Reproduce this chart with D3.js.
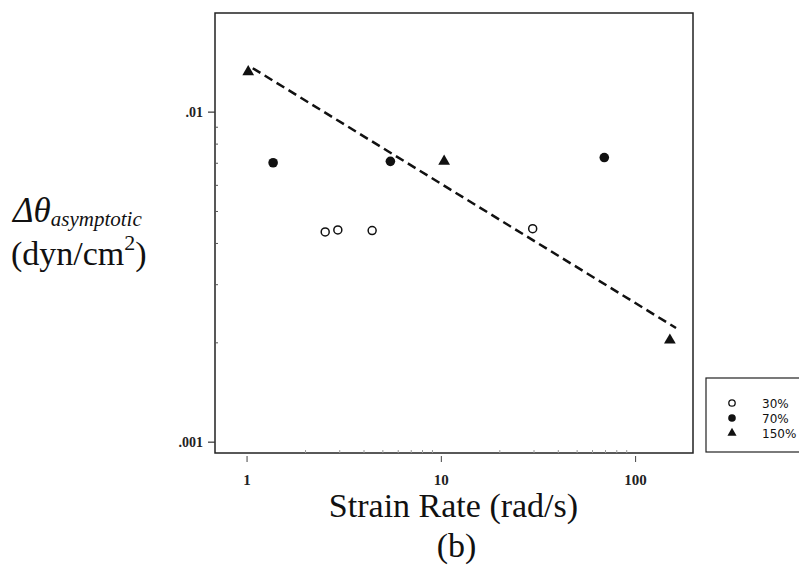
<!DOCTYPE html>
<html>
<head>
<meta charset="utf-8">
<script src="https://cdn.jsdelivr.net/npm/d3@7"></script>
<style>
  html, body { margin: 0; padding: 0; background: #fff; }
  svg { display: block; }
</style>
</head>
<body>
<script>
// ---- Data ----
const series = ["30%", "70%", "150%"];
const rate30 = [2.54, 2.95, 4.43, 29.7];
const val30  = [0.00432, 0.00438, 0.00436, 0.00442];
const rate70 = [1.37, 5.5, 69.4];
const val70  = [0.00700, 0.00707, 0.00726];
const rate150 = [1.02, 10.4, 151];
const val150  = [0.0132, 0.00707, 0.00203];
const fitRate = [1.076, 162.4];
const fitVal  = [0.01354, 0.00221];
const xTicks = [1, 10, 100];
const xTickLabels = ["1", "10", "100"];
const yTicks = [0.01, 0.001];
const yTickLabels = [".01", ".001"];
const xDomain = [0.688, 198.6];
const yDomain = [0.000924, 0.0199];

const W = 799, H = 565;
const pLeft = 215, pRight = 693, pTop = 13, pBottom = 453;
const serif = "'Liberation Serif', 'Times New Roman', serif";

const svg = d3.select("body").append("svg").attr("width", W).attr("height", H)
  .style("background", "#fff");

const x = d3.scaleLog().domain(xDomain).range([pLeft, pRight]);
const y = d3.scaleLog().domain(yDomain).range([pBottom, pTop]);

// frame
svg.append("rect").attr("x", pLeft).attr("y", pTop)
  .attr("width", pRight - pLeft).attr("height", pBottom - pTop)
  .attr("fill", "none").attr("stroke", "#222").attr("stroke-width", 1.5);

// y axis major ticks (outside)
const yAxis = d3.axisLeft(y).tickValues(yTicks).tickSize(7).tickPadding(5)
  .tickFormat((d, i) => yTickLabels[i]);
const gy = svg.append("g").attr("transform", `translate(${pLeft},0)`).call(yAxis);
gy.select(".domain").remove();
gy.selectAll("line").attr("stroke", "#333").attr("stroke-width", 1.2);
gy.selectAll("text").style("font-family", serif).style("font-size", "14px")
  .style("font-weight", "bold").style("fill", "#222");

// y minor ticks (inside)
const yMinor = [];
for (let k = 2; k <= 9; k++) { yMinor.push(k * 0.001); }
const gym = svg.append("g").attr("transform", `translate(${pLeft},0)`)
  .call(d3.axisRight(y).tickValues(yMinor).tickSize(3).tickFormat(""));
gym.select(".domain").remove();
gym.selectAll("line").attr("stroke", "#555").attr("stroke-width", 1);

// x axis major ticks (outside)
const xAxis = d3.axisBottom(x).tickValues(xTicks).tickSize(6).tickPadding(12)
  .tickFormat((d, i) => xTickLabels[i]);
const gx = svg.append("g").attr("transform", `translate(0,${pBottom + 3})`).call(xAxis);
gx.select(".domain").remove();
gx.selectAll("line").attr("stroke", "#444").attr("stroke-width", 1);
gx.selectAll("text").style("font-family", serif).style("font-size", "15px")
  .style("font-weight", "bold").style("fill", "#222");

// x minor ticks (inside, faint)
const xMinor = [];
[1, 10].forEach(dec => { for (let k = 2; k <= 9; k++) xMinor.push(k * dec); });
const gxm = svg.append("g").attr("transform", `translate(0,${pBottom})`)
  .call(d3.axisTop(x).tickValues(xMinor).tickSize(3).tickFormat(""));
gxm.select(".domain").remove();
gxm.selectAll("line").attr("stroke", "#999").attr("stroke-width", 1);

// dashed fit line
const line = d3.line().x(d => x(d[0])).y(d => y(d[1]));
svg.append("path").datum(fitRate.map((r, i) => [r, fitVal[i]]))
  .attr("d", line).attr("fill", "none").attr("stroke", "#111")
  .attr("stroke-width", 2.5).attr("stroke-dasharray", "9,5");

// markers
const tri = d3.symbol().type(d3.symbolTriangle).size(60);
svg.append("g").selectAll("circle").data(rate30.map((r, i) => [r, val30[i]]))
  .join("circle").attr("cx", d => x(d[0])).attr("cy", d => y(d[1])).attr("r", 4)
  .attr("fill", "#fff").attr("stroke", "#111").attr("stroke-width", 1.5);
svg.append("g").selectAll("circle").data(rate70.map((r, i) => [r, val70[i]]))
  .join("circle").attr("cx", d => x(d[0])).attr("cy", d => y(d[1])).attr("r", 4.8)
  .attr("fill", "#111");
svg.append("g").selectAll("path").data(rate150.map((r, i) => [r, val150[i]]))
  .join("path").attr("d", tri).attr("transform", d => `translate(${x(d[0])},${y(d[1])})`)
  .attr("fill", "#111");

// axis titles
svg.append("text").attr("x", 453.5).attr("y", 517)
  .attr("text-anchor", "middle").attr("font-family", serif).attr("font-size", 34)
  .attr("fill", "#111").text("Strain Rate (rad/s)");
svg.append("text").attr("x", 456.5).attr("y", 557)
  .attr("text-anchor", "middle").attr("font-family", serif).attr("font-size", 34)
  .attr("fill", "#111").text("(b)");

const yl = svg.append("text").attr("x", 13).attr("y", 222)
  .attr("font-family", serif).attr("fill", "#111");
yl.append("tspan").attr("font-size", 35).attr("font-style", "italic").text("Δθ");
yl.append("tspan").attr("font-size", 21).attr("font-style", "italic").attr("dy", 4).text("asymptotic");
const yl2 = svg.append("text").attr("x", 11).attr("y", 265)
  .attr("font-family", serif).attr("fill", "#111").attr("font-size", 34);
yl2.append("tspan").text("(dyn/cm");
yl2.append("tspan").attr("font-size", 22).attr("dy", -15).text("2");
yl2.append("tspan").attr("dy", 15).text(")");

// legend
const lg = svg.append("g");
lg.append("rect").attr("x", 706).attr("y", 378).attr("width", 100).attr("height", 74)
  .attr("fill", "#fff").attr("stroke", "#222").attr("stroke-width", 1.2);
const rowsY = [403, 418, 433];
series.forEach((s, i) => {
  const cy = rowsY[i];
  if (i === 0) lg.append("circle").attr("cx", 732).attr("cy", cy).attr("r", 3.2)
    .attr("fill", "#fff").attr("stroke", "#111").attr("stroke-width", 1.3);
  else if (i === 1) lg.append("circle").attr("cx", 732).attr("cy", cy).attr("r", 3.8).attr("fill", "#111");
  else lg.append("path").attr("d", d3.symbol().type(d3.symbolTriangle).size(36))
    .attr("transform", `translate(732,${cy})`).attr("fill", "#111");
  lg.append("text").attr("x", 762).attr("y", cy + 4.5)
    .attr("font-family", "'DejaVu Sans', sans-serif").attr("font-size", 12)
    .attr("fill", "#111").text(s);
});
</script>
</body>
</html>
